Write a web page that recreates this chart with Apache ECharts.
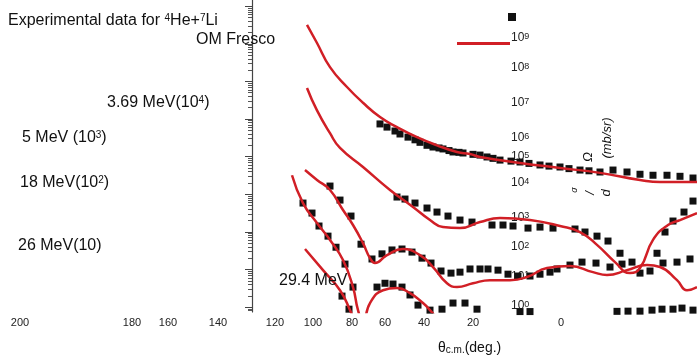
<!DOCTYPE html>
<html>
<head>
<meta charset="utf-8">
<script src="https://cdn.jsdelivr.net/npm/echarts@6/dist/echarts.min.js"></script>
<style>
  html, body { margin: 0; padding: 0; background: #fff; }
  #chart { width: 697px; height: 356px; }
</style>
</head>
<body>
<div id="chart"></div>
<script>
// theta (deg) , dsigma/dOmega (mb/sr, with the 10^n offsets)
const exp369 = [[66.5,7.4e4],[63,6.1e4],[59,4.8e4],[56.5,4.0e4],[52.5,3.3e4],[49,2.8e4],[46.5,2.4e4],[43,2.0e4],[40,1.8e4],[37,1.7e4],[35,1.6e4],[32,1.45e4],[30,1.33e4],[27,1.3e4],[25,1.25e4],[20,1.15e4],[16.5,1.1e4],[13,9.8e3],[10,9.0e3],[6.5,8.1e3],[1,7.6e3],[-3.5,7.2e3],[-8,6.6e3],[-13.5,6.0e3],[-18,5.6e3],[-23.5,5.3e3],[-28,4.8e3],[-33.5,4.4e3],[-38,4.2e3],[-43.5,3.9e3],[-50,4.4e3],[-57,3.9e3],[-63.5,3.4e3],[-70,3.2e3],[-77,3.2e3],[-83.5,3.0e3],[-90,2.7e3]];
const fit369 = [[103,3.2e7],[98,1.05e7],[91.5,2.4e6],[83,7.1e5],[75,2.7e5],[66.5,1.13e5],[58,6.1e4],[48,3.3e4],[38,2.0e4],[28,1.33e4],[21.5,1.17e4],[16.5,9.8e3],[-3.5,6.8e3],[-23.5,5.0e3],[-43.5,3.7e3],[-63.5,2.4e3],[-73.5,2.1e3],[-92,2.1e3]];

const exp5 = [[58,843],[54,745],[49,583],[43,430],[38,336],[32.5,263],[26.5,206],[20.5,182],[10.5,152],[5,152],[0,143],[-7.5,126],[-13.5,134],[-20,126],[-31,119],[-36,99],[-42,77],[-47.5,57],[-53.5,27],[-59.5,15.7],[-63.5,8.0],[-68.5,9.1],[-72,27],[-76,99],[-80,194],[-85.5,336],[-90,659]];
const fit5 = [[103,6.7e5],[98,1.7e5],[91.5,4.2e4],[86.5,1.7e4],[75,5.3e3],[61.5,1.3e3],[50,460],[41.5,206],[35,134],[26.5,126],[16.5,182],[6.5,233],[-8.5,206],[-23.5,143],[-33.5,99],[-42,45],[-51,15.7],[-58.5,8.0],[-63.5,10.9],[-70,61],[-77.5,152],[-83.5,206],[-92,316]];

const exp18 = [[91.5,1650],[86.5,700],[81,263],[76,47],[70.5,19],[65.5,26],[60.5,33],[55.5,35],[50.5,29],[45.5,20],[41,14.8],[36,9.1],[31,8.0],[26.5,8.5],[21.5,10.3],[16.5,10.3],[12.5,10.3],[7.5,9.6],[2.5,7.5],[-2.5,6.7],[-8.5,6.7],[-13.5,7.5],[-18.5,8.5],[-22,10.3],[-28.5,13.1],[-34.5,15.7],[-41.5,14.8],[-48.5,11.6],[-54.5,13.9],[-75,14.8],[-82,15.7],[-88.5,19]];
const fit18 = [[104,4.4e3],[98,2.4e3],[91.5,1.3e3],[85,380],[80,152],[75,50],[71.5,20],[69,14.8],[63,24],[55,35],[46.5,24],[40,11.6],[33,4.3],[28,3.4],[20,4.3],[11.5,5.2],[1.5,5.2],[-7,6.3],[-17,10.9],[-28.5,12.3],[-40,8.5],[-47,7.1],[-57,9.6],[-67,13.1],[-73.5,11.6],[-82,5.2],[-87,2.8],[-92,3.4]];

const exp26 = [[105,583],[100.5,316],[97,143],[92.5,77],[88.5,39],[84,13.9],[80,3.4],[68,3.4],[64,4.3],[60,4.1],[55.5,3.4],[51.5,2.1],[47.5,1.13],[41.5,0.83],[35.5,0.88],[30,1.28],[24,1.28],[18,0.88],[-3.5,0.76],[-8.5,0.76],[-52,0.77],[-57.5,0.78],[-63.5,0.78],[-69.5,0.83],[-74.5,0.88],[-80,0.88],[-84.5,0.94],[-90,0.83]];
const fit26 = [[110.5,3.2e3],[105,583],[98,171],[91.5,61],[85,17.8],[80,3.4],[77.5,0.83],[75,0.40],[71.5,1.28],[65,2.8],[58,3.2],[51.5,2.36],[45,1.28],[41.5,0.83],[36.5,0.40]];

const exp294 = [[85.5,1.96],[82,0.88]];
const fit294 = [[104,35],[95,9.6],[86.5,2.8],[81.5,0.83],[78.5,0.33]];

// axis tick labels as printed in the figure
const xTickPos = [246.5, 190.5, 172.5, 147.5, 119, 100, 80.5, 64, 44.5, 20, -24];
const xTickText = ['200', '180', '160', '140', '120', '100', '80', '60', '40', '20', '0'];
const yTickPos = [7.15, 6.36, 5.43, 4.5, 3.99, 3.3, 2.39, 1.6, 0.82, 0.03];
const yTickExp = ['9', '8', '7', '6', '5', '4', '3', '2', '1', '0'];

const FONT = '"Liberation Sans", Arial, sans-serif';
const RED = '#d11f26';
const Y_MIN = 0.74, Y_MAX = 1.46e8;

const majorTicks = [];
const minorTicks = [];
for (let n = -1; n <= 8; n++) {
  majorTicks.push(Math.pow(10, n));
  for (let m = 2; m <= 9; m++) minorTicks.push(m * Math.pow(10, n));
}

const chart = echarts.init(document.getElementById('chart'));

function expSeries(data) {
  return {
    name: 'Experimental data', type: 'scatter', xAxisIndex: 0, yAxisIndex: 0,
    symbol: 'rect', symbolSize: 7, itemStyle: { color: '#111', opacity: 1 }, data: data, z: 2
  };
}
function fitSeries(data) {
  return {
    name: 'OM Fresco', type: 'line', xAxisIndex: 0, yAxisIndex: 0,
    showSymbol: false, smooth: 0.5, clip: true,
    lineStyle: { color: RED, width: 2.5 }, itemStyle: { color: RED }, data: data, z: 3
  };
}

function txt(x, y, text, size, extra) {
  return {
    type: 'text', x: x, y: y, z: 10,
    style: Object.assign({
      text: text, fill: '#111', fontSize: size, fontFamily: FONT,
      align: 'left', verticalAlign: 'middle',
      rich: {
        sup: { fontSize: Math.round(size * 0.65), fontFamily: FONT, verticalAlign: 'top', lineHeight: size },
        sub: { fontSize: Math.round(size * 0.7), fontFamily: FONT, verticalAlign: 'bottom', lineHeight: size }
      }
    }, extra || {})
  };
}

const option = {
  animation: false,
  backgroundColor: '#fff',
  grid: [
    { left: 252, right: 0, top: 0, bottom: 44, outerBoundsMode: 'none' },
    { left: 0, right: 0, top: 0, bottom: 44, outerBoundsMode: 'none' }
  ],
  legend: [
    {
      data: ['Experimental data'], left: 508, top: 13, padding: 0,
      icon: 'rect', itemWidth: 8, itemHeight: 8, formatter: () => '',
      selectedMode: false
    },
    {
      data: ['OM Fresco'], left: 457, top: 42, padding: 0,
      icon: 'rect', itemWidth: 53, itemHeight: 3, formatter: () => '',
      selectedMode: false
    }
  ],
  xAxis: [
    { type: 'value', gridIndex: 0, inverse: true, min: -92, max: 130.5, show: false },
    {
      type: 'value', gridIndex: 1, inverse: true, min: -92, max: 256.5,
      axisLine: { show: false }, axisTick: { show: false }, splitLine: { show: false },
      axisLabel: {
        customValues: xTickPos, margin: 5, color: '#222', fontSize: 11, fontFamily: FONT,
        formatter: (v) => {
          const i = xTickPos.findIndex(p => Math.abs(p - v) < 0.01);
          return i >= 0 ? xTickText[i] : '';
        }
      }
    }
  ],
  yAxis: [
    {
      type: 'log', gridIndex: 0, position: 'left', min: Y_MIN, max: Y_MAX,
      axisLine: { show: true, onZero: false, lineStyle: { color: '#444', width: 1.2 } },
      axisTick: { show: true, customValues: majorTicks, length: 7, lineStyle: { color: '#444' } },
      axisLabel: { show: false }, splitLine: { show: false }, minorTick: { show: false }
    },
    {
      type: 'log', gridIndex: 0, position: 'left', min: Y_MIN, max: Y_MAX,
      axisLine: { show: false, onZero: false },
      axisTick: { show: true, customValues: minorTicks, length: 4, lineStyle: { color: '#555' } },
      axisLabel: { show: false }, splitLine: { show: false }
    },
    {
      type: 'value', gridIndex: 0, position: 'right', offset: -186,
      min: Math.log10(Y_MIN), max: Math.log10(Y_MAX),
      axisLine: { show: false, onZero: false }, axisTick: { show: false }, splitLine: { show: false },
      axisLabel: {
        customValues: yTickPos, margin: 0, color: '#222', fontSize: 12, fontFamily: FONT,
        formatter: (v) => {
          const i = yTickPos.findIndex(p => Math.abs(p - v) < 0.01);
          return i >= 0 ? '10{sup|' + yTickExp[i] + '}' : '';
        },
        rich: { sup: { fontSize: 9, fontFamily: FONT, color: '#222', verticalAlign: 'top', lineHeight: 12 } }
      }
    },
    { type: 'value', gridIndex: 1, show: false }
  ],
  graphic: [
    txt(8, 21, 'Experimental data for {sup|4}He+{sup|7}Li', 16),
    txt(196, 40, 'OM Fresco', 16),
    txt(107, 103, '3.69 MeV(10{sup|4})', 16),
    txt(22, 138, '5 MeV (10{sup|3})', 16),
    txt(20, 183, '18 MeV(10{sup|2})', 16),
    txt(18, 246, '26 MeV(10)', 16),
    txt(279, 281, '29.4 MeV', 16),
    txt(438, 348, 'θ{sub|c.m.}(deg.)', 14),
    Object.assign(txt(607, 138, '(mb/sr)', 13, { align: 'center', fontStyle: 'italic' }), { rotation: Math.PI / 2 }),
    Object.assign(txt(588, 157, 'Ω', 13, { align: 'center', fontStyle: 'italic' }), { rotation: Math.PI / 2 }),
    Object.assign(txt(606, 193, 'd', 13, { align: 'center', fontStyle: 'italic' }), { rotation: Math.PI / 2 }),
    Object.assign(txt(590, 193, '/', 13, { align: 'center', fontStyle: 'italic' }), { rotation: Math.PI / 2 }),
    Object.assign(txt(574, 190, 'σ', 9, { align: 'center', fontStyle: 'italic' }), { rotation: Math.PI / 2 })
  ],
  series: [
    expSeries(exp369), expSeries(exp5), expSeries(exp18), expSeries(exp26), expSeries(exp294),
    fitSeries(fit369), fitSeries(fit5), fitSeries(fit18), fitSeries(fit26), fitSeries(fit294)
  ]
};

chart.setOption(option);
window.addEventListener('resize', () => chart.resize());
</script>
</body>
</html>
